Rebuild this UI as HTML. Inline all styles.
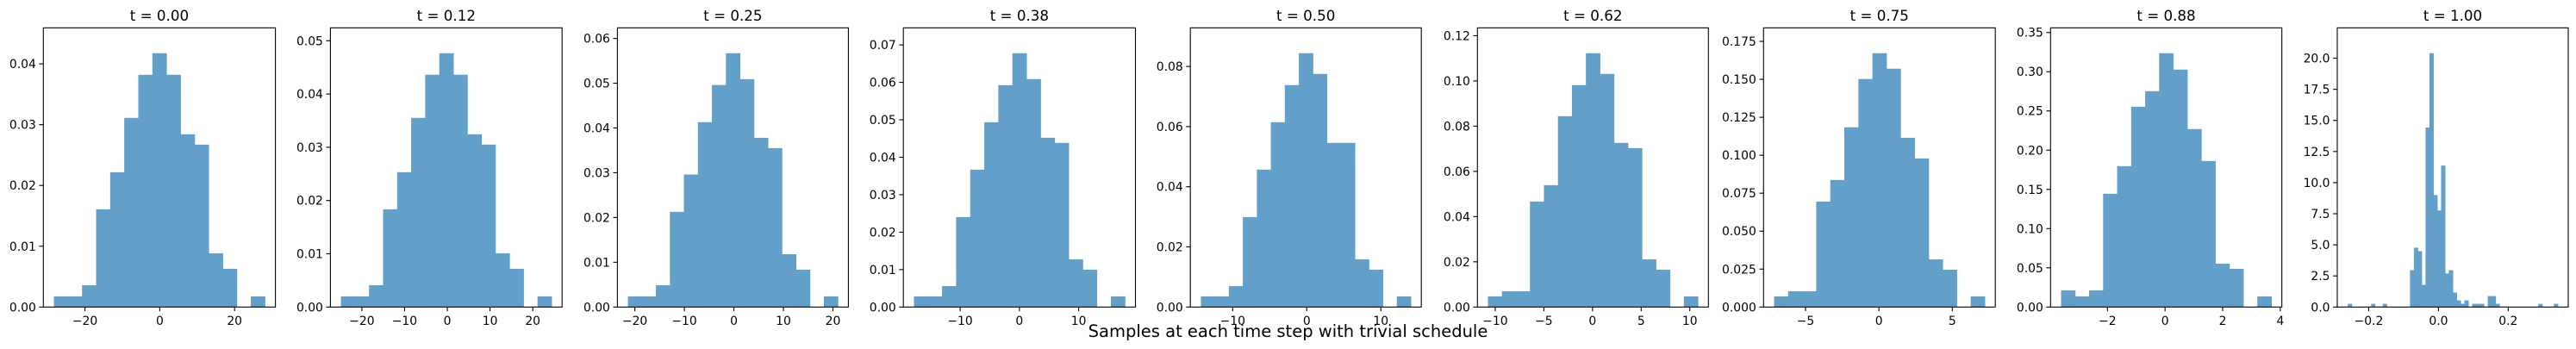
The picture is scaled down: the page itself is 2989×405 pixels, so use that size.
<!DOCTYPE html>
<html><head><meta charset="utf-8">
<style>
html,body{margin:0;padding:0;background:#fff;}
svg{display:block;font-family:"DejaVu Sans","Liberation Sans",sans-serif;}
</style></head>
<body>
<svg id="chart" width="2989" height="405" viewBox="0 0 2989 405" xmlns="http://www.w3.org/2000/svg">
<text x="1494.5" y="391" font-size="19.5" text-anchor="middle" fill="#000">Samples at each time step with trivial schedule</text>
</svg>
<script>
const titles = ["t = 0.00","t = 0.12","t = 0.25","t = 0.38","t = 0.50","t = 0.62","t = 0.75","t = 0.88","t = 1.00"];
const binMin = [-28.3,-24.9,-21.4,-17.8,-14.3,-10.75,-7.14,-3.61,-0.26];
const binMax = [28.1,24.4,21.0,17.8,14.05,10.83,7.21,3.69,0.342];
const dens0 = [0.00175,0.00175,0.00359,0.01608,0.02217,0.03111,0.0382,0.04175,0.0382,0.02842,0.02671,0.00884,0.00629,0,0.00175];
const dens1 = [0.002,0.002,0.0041,0.01835,0.02532,0.03552,0.04362,0.04766,0.04362,0.03244,0.0305,0.01009,0.00718,0,0.002];
const dens2 = [0.00238,0.00238,0.00488,0.02126,0.0296,0.0413,0.0496,0.0567,0.0509,0.0378,0.0355,0.0118,0.00835,0,0.00238];
const dens3 = [0.00284,0.00284,0.0056,0.02403,0.03669,0.04935,0.05925,0.06778,0.06087,0.04521,0.04383,0.01274,0.00998,0,0.00284];
const dens4 = [0.00354,0.00354,0.00698,0.02992,0.04569,0.06146,0.07379,0.0844,0.07751,0.05458,0.05458,0.01587,0.01243,0,0.00354];
const dens5 = [0.0047,0.00699,0.00699,0.04665,0.0539,0.0844,0.09814,0.11225,0.1031,0.07258,0.0703,0.0211,0.01653,0,0.0047];
const dens6 = [0.00701,0.01042,0.01042,0.0695,0.0837,0.1184,0.1502,0.1672,0.157,0.1115,0.0979,0.0314,0.0246,0,0.00701];
const dens7 = [0.02126,0.01356,0.02126,0.1444,0.1796,0.2554,0.2752,0.3236,0.3027,0.2269,0.1862,0.0553,0.0487,0,0.01356];
const dens8 = [0.26,0,0,0,0,0,0.26,0,0,0.26,0,0,0,0,0,0,2.96,4.77,4.49,1.78,14.42,20.4,9.0,7.76,11.37,2.69,2.96,1.16,0.53,0.26,0.53,0,0.26,0.26,0.26,0,0.88,0.88,0.26,0,0,0,0,0,0,0,0,0,0,0.26,0,0,0,0.26];
const yTicks0 = [0,0.01,0.02,0.03,0.04];
const yTicks1 = [0,0.01,0.02,0.03,0.04,0.05];
const yTicks2 = [0,0.01,0.02,0.03,0.04,0.05,0.06];
const yTicks3 = [0,0.01,0.02,0.03,0.04,0.05,0.06,0.07];
const yTicks4 = [0,0.02,0.04,0.06,0.08];
const yTicks5 = [0,0.02,0.04,0.06,0.08,0.10,0.12];
const yTicks6 = [0,0.025,0.05,0.075,0.1,0.125,0.15,0.175];
const yTicks7 = [0,0.05,0.1,0.15,0.2,0.25,0.3,0.35];
const yTicks8 = [0,2.5,5,7.5,10,12.5,15,17.5,20];
const yDecimals = [2,2,2,2,2,2,3,2,1];
const xTicks0 = [-20,0,20];
const xTicks1 = [-20,-10,0,10,20];
const xTicks2 = [-20,-10,0,10,20];
const xTicks3 = [-10,0,10];
const xTicks4 = [-10,0,10];
const xTicks5 = [-10,-5,0,5,10];
const xTicks6 = [-5,0,5];
const xTicks7 = [-2,0,2,4];
const xTicks8 = [-0.2,0.0,0.2];
const xDecimals = [0,0,0,0,0,0,0,0,1];

const allDens=[dens0,dens1,dens2,dens3,dens4,dens5,dens6,dens7,dens8];
const allY=[yTicks0,yTicks1,yTicks2,yTicks3,yTicks4,yTicks5,yTicks6,yTicks7,yTicks8];
const allX=[xTicks0,xTicks1,xTicks2,xTicks3,xTicks4,xTicks5,xTicks6,xTicks7,xTicks8];
const axLeft=[50.3,383.4,716.4,1048.2,1381.2,1714.3,2046.3,2379.3,2712];
const axRight=[319.6,652.2,984.4,1317.5,1649.2,1982.3,2315.2,2647.7,2980];
const axTop=32.3, axBottom=356.3;
const NS="http://www.w3.org/2000/svg";
const svg=document.getElementById('chart');
function mk(tag,attrs,parent){const e=document.createElementNS(NS,tag);for(const k in attrs)e.setAttribute(k,attrs[k]);parent.appendChild(e);return e;}
function minus(s){return s.replace('-','\u2212');}
for(let p=0;p<9;p++){
  const d=allDens[p], lo=binMin[p], hi=binMax[p], n=d.length, w=(hi-lo)/n;
  const rng=hi-lo, xmin=lo-0.05*rng, xmax=hi+0.05*rng;
  const ymax=Math.max(...d)*1.1;
  const L=axLeft[p], R=axRight[p];
  const xs=v=>L+(v-xmin)/(xmax-xmin)*(R-L);
  const ys=v=>axBottom-(v/ymax)*(axBottom-axTop);
  const g=mk('g',{},svg);
  
  
  for(let i=0;i<n;i++){
    if(d[i]<=0)continue;
    const x0=xs(lo+i*w), x1=xs(lo+(i+1)*w), y=ys(d[i]);
    const r=mk('rect',{x:x0,y:y,width:x1-x0+0.5,height:axBottom-y,fill:'#62a0ca'},g);
    
    
  }
  const fr=mk('rect',{x:L,y:axTop,width:R-L,height:axBottom-axTop,fill:'none',stroke:'#000','stroke-width':1.1},g);
  
  
  const t=mk('text',{x:(L+R)/2,y:24,'font-size':16.7,'text-anchor':'middle',fill:'#000'},g);
  t.textContent=titles[p];
  
  
  allY[p].forEach(v=>{
    const y=ys(v);
    mk('line',{x1:L-4.9,x2:L,y1:y,y2:y,stroke:'#000','stroke-width':1.1},g);
    const tl=mk('text',{x:L-8.5,y:y+5,'font-size':13.9,'text-anchor':'end',fill:'#000'},g);
    tl.textContent=v.toFixed(yDecimals[p]);
    
    
  });
  allX[p].forEach(v=>{
    const x=xs(v);
    mk('line',{x1:x,x2:x,y1:axBottom,y2:axBottom+4.9,stroke:'#000','stroke-width':1.1},g);
    const tl=mk('text',{x:x,y:377,'font-size':13.9,'text-anchor':'middle',fill:'#000'},g);
    tl.textContent=minus(v.toFixed(xDecimals[p]));
    
    
  });
}
</script>
</body></html>
